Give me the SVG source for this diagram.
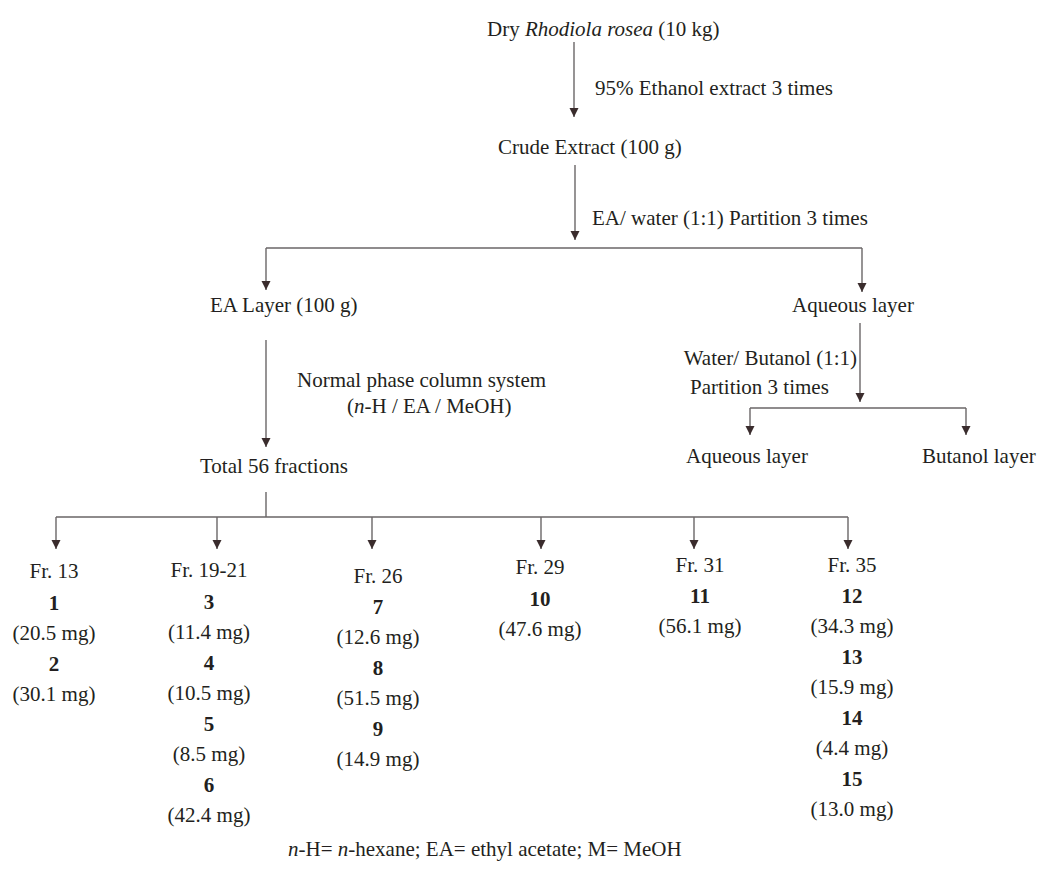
<svg xmlns="http://www.w3.org/2000/svg" width="1050" height="881" viewBox="0 0 1050 881">
<style>
text{font-family:"Liberation Serif","Times New Roman",serif;font-size:21px;fill:#231f20}
.c{text-anchor:middle}
.e{text-anchor:end}
.b{font-weight:bold}
.ln{stroke:#6a6667;stroke-width:1.4;fill:none}
.ar{stroke:#6a6667;stroke-width:1.4;fill:none;marker-end:url(#ah)}
</style>
<defs>
<marker id="ah" markerUnits="userSpaceOnUse" markerWidth="10" markerHeight="10" refX="9" refY="4.5" orient="auto">
<path d="M0,0 L9,4.5 L0,9 z" fill="#3a2c2d"/>
</marker>
</defs>
<rect width="1050" height="881" fill="#fff"/>
<g id="connectors">
<path class="ar" d="M574,42 V117"/>
<path class="ar" d="M575,165 V240"/>
<path class="ln" d="M266,248 H862"/>
<path class="ar" d="M266,248 V290"/>
<path class="ar" d="M862,248 V292"/>
<path class="ar" d="M266,340 V447"/>
<path class="ar" d="M860,323 V402"/>
<path class="ln" d="M750,408 H966"/>
<path class="ar" d="M750,408 V435"/>
<path class="ar" d="M966,408 V435"/>
<path class="ln" d="M266,492 V517 M56,517 H848"/>
<path class="ar" d="M56,517 V549"/>
<path class="ar" d="M217,517 V549"/>
<path class="ar" d="M372,517 V549"/>
<path class="ar" d="M541,517 V549"/>
<path class="ar" d="M694,517 V549"/>
<path class="ar" d="M848,517 V549"/>
</g>
<g id="edge-labels">
<text x="595" y="95">95% Ethanol extract 3 times</text>
<text x="592" y="225">EA/ water (1:1) Partition 3 times</text>
<text x="857" y="365" class="e">Water/ Butanol (1:1)</text>
<text x="690" y="394">Partition 3 times</text>
<text x="297" y="387">Normal phase column system</text>
<text x="347" y="413">(<tspan font-style="italic">n</tspan>-H / EA / MeOH)</text>
</g>
<g id="n-dry"><text x="487" y="36">Dry <tspan font-style="italic">Rhodiola rosea</tspan> (10 kg)</text></g>
<g id="n-crude"><text x="498" y="154">Crude Extract (100 g)</text></g>
<g id="n-ea"><text x="210" y="312">EA Layer (100 g)</text></g>
<g id="n-aq1"><text x="792" y="312">Aqueous layer</text></g>
<g id="n-total"><text x="200" y="473">Total 56 fractions</text></g>
<g id="n-aq2"><text x="686" y="463">Aqueous layer</text></g>
<g id="n-but"><text x="922" y="463">Butanol layer</text></g>
<g id="n-fr13" class="c">
<text x="54" y="578" class="c">Fr. 13</text>
<text x="54" y="610" class="c b">1</text>
<text x="54" y="640" class="c">(20.5 mg)</text>
<text x="54" y="671" class="c b">2</text>
<text x="54" y="701" class="c">(30.1 mg)</text>
</g>
<g id="n-fr19">
<text x="209" y="577" class="c">Fr. 19-21</text>
<text x="209" y="609" class="c b">3</text>
<text x="209" y="639" class="c">(11.4 mg)</text>
<text x="209" y="670" class="c b">4</text>
<text x="209" y="700" class="c">(10.5 mg)</text>
<text x="209" y="731" class="c b">5</text>
<text x="209" y="761" class="c">(8.5 mg)</text>
<text x="209" y="792" class="c b">6</text>
<text x="209" y="822" class="c">(42.4 mg)</text>
</g>
<g id="n-fr26">
<text x="378" y="583" class="c">Fr. 26</text>
<text x="378" y="614" class="c b">7</text>
<text x="378" y="644" class="c">(12.6 mg)</text>
<text x="378" y="675" class="c b">8</text>
<text x="378" y="705" class="c">(51.5 mg)</text>
<text x="378" y="736" class="c b">9</text>
<text x="378" y="766" class="c">(14.9 mg)</text>
</g>
<g id="n-fr29">
<text x="540" y="574" class="c">Fr. 29</text>
<text x="540" y="606" class="c b">10</text>
<text x="540" y="636" class="c">(47.6 mg)</text>
</g>
<g id="n-fr31">
<text x="700" y="572" class="c">Fr. 31</text>
<text x="700" y="603" class="c b">11</text>
<text x="700" y="633" class="c">(56.1 mg)</text>
</g>
<g id="n-fr35">
<text x="852" y="572" class="c">Fr. 35</text>
<text x="852" y="603" class="c b">12</text>
<text x="852" y="633" class="c">(34.3 mg)</text>
<text x="852" y="664" class="c b">13</text>
<text x="852" y="694" class="c">(15.9 mg)</text>
<text x="852" y="725" class="c b">14</text>
<text x="852" y="755" class="c">(4.4 mg)</text>
<text x="852" y="786" class="c b">15</text>
<text x="852" y="816" class="c">(13.0 mg)</text>
</g>
<g id="footnote"><text x="288" y="856"><tspan font-style="italic">n</tspan>-H= <tspan font-style="italic">n</tspan>-hexane; EA= ethyl acetate; M= MeOH</text></g>
</svg>
